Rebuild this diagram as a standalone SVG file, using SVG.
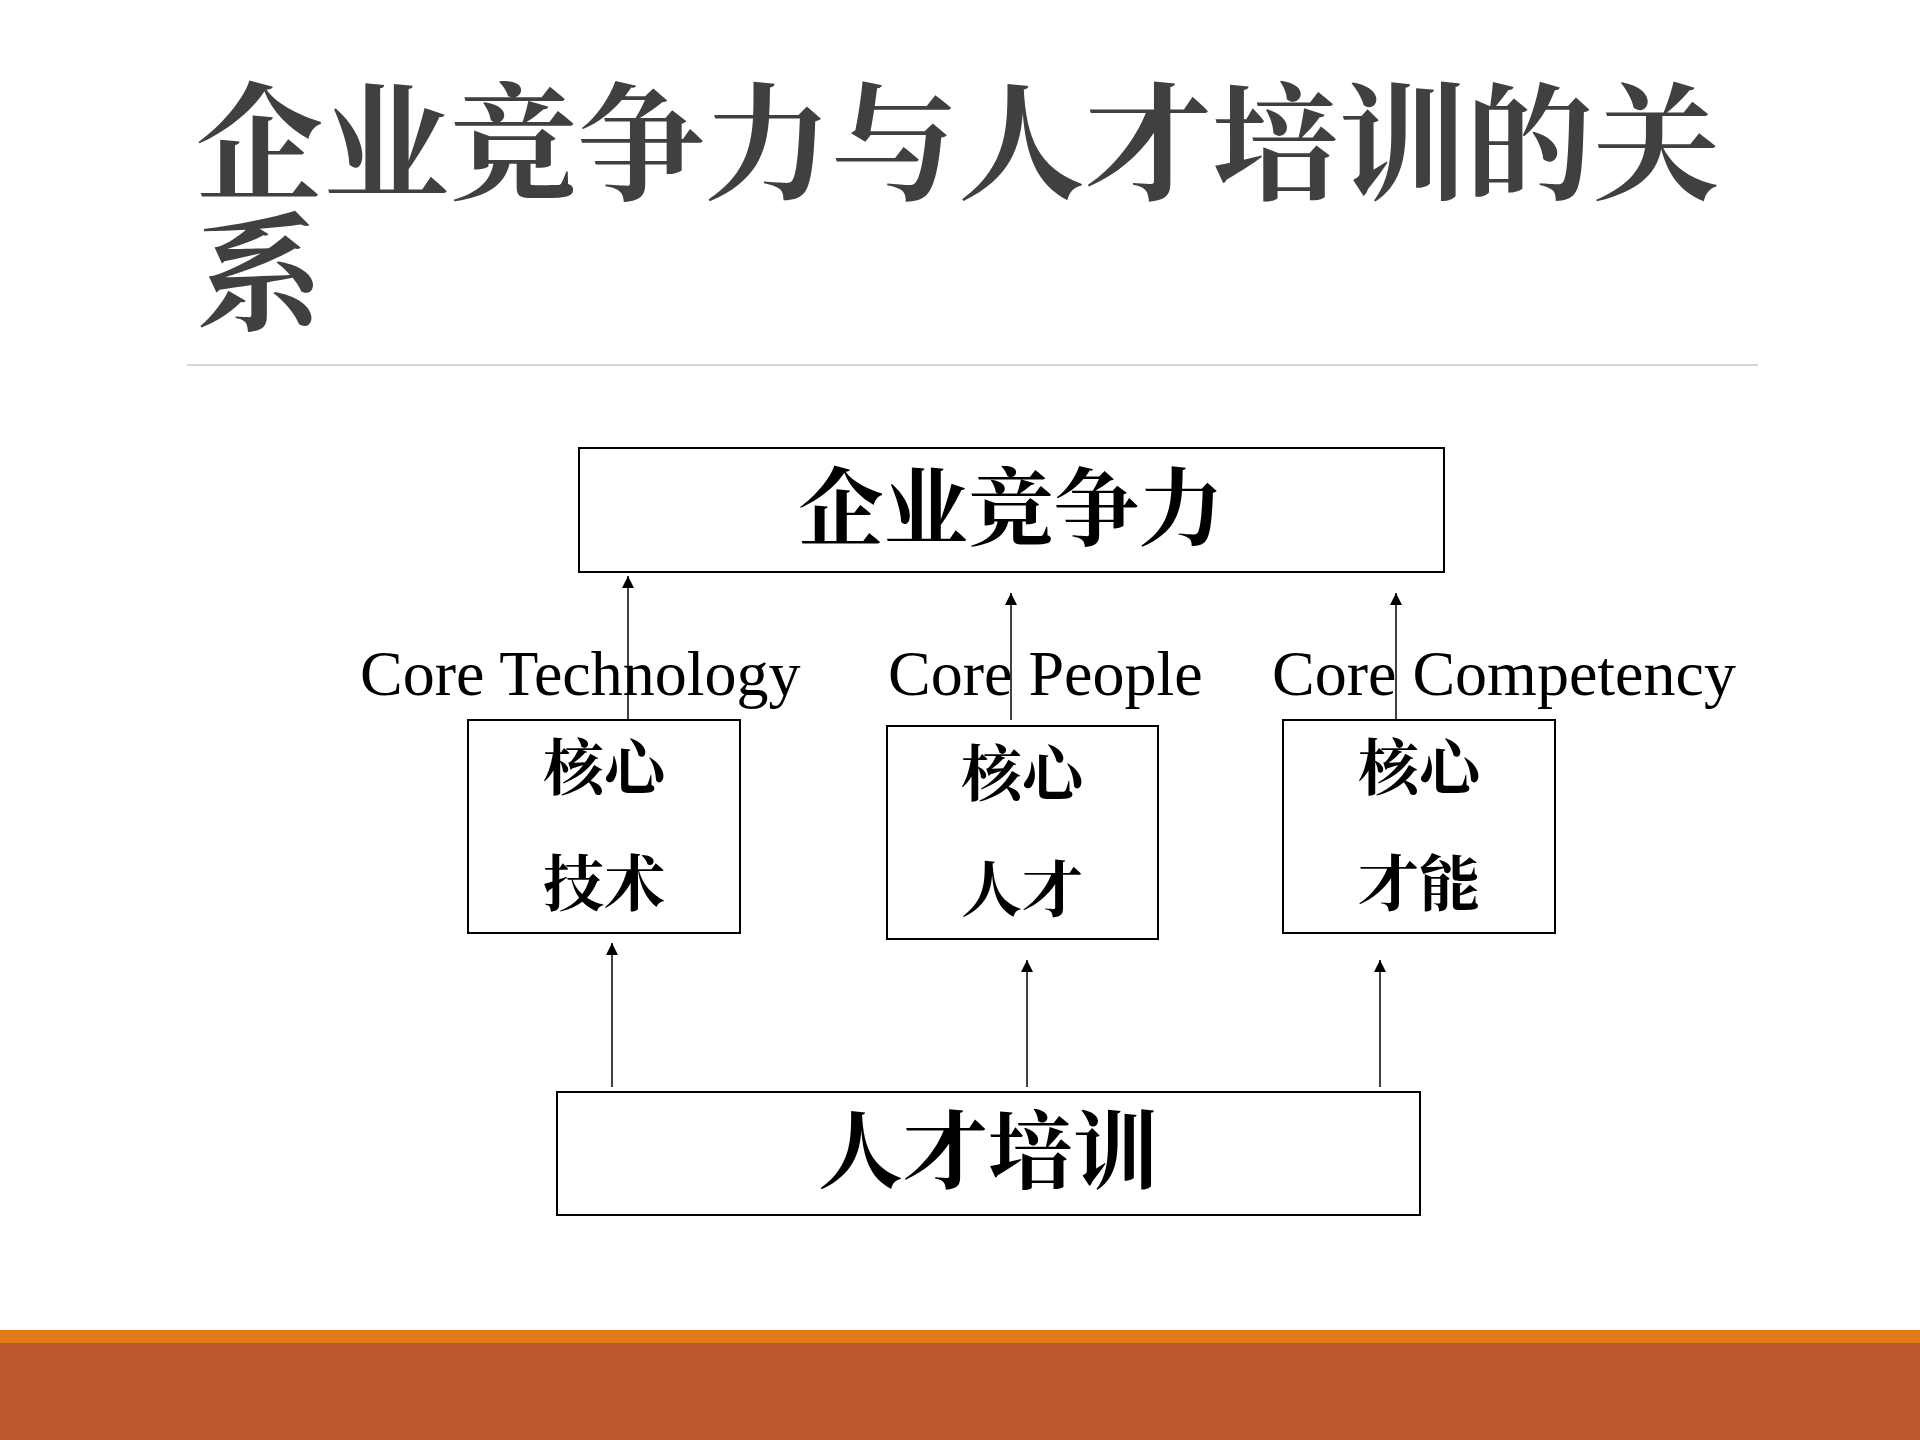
<svg xmlns="http://www.w3.org/2000/svg" width="1920" height="1440" viewBox="0 0 1920 1440">
<defs>
<marker id="ah" viewBox="0 0 10 10" refX="10" refY="5" markerWidth="12" markerHeight="12" markerUnits="userSpaceOnUse" orient="auto"><path d="M0,0L10,5L0,10z" fill="#000"/></marker>
<style>
.cjk{font-family:"Noto Serif CJK SC","Noto Sans CJK SC",serif;font-weight:bold;fill:#000}
.en{font-family:"Liberation Serif",serif;font-size:64px;fill:#000}
.box{fill:#fff;stroke:#000;stroke-width:2}
.ln{stroke:#000;stroke-width:1.5;fill:none;marker-end:url(#ah)}
</style>
</defs>
<rect width="1920" height="1440" fill="#fff"/>
<g id="title" font-family="'Noto Serif CJK SC','Noto Sans CJK SC',serif" font-weight="bold" font-size="127" fill="#404040">
<text x="196" y="190">企业竞争力与人才培训的关</text>
<text x="196" y="320">系</text>
</g>
<line x1="187" y1="365" x2="1758" y2="365" stroke="#c8c8c8" stroke-width="1.5"/>
<g id="connectors">
<line class="ln" x1="628" y1="719" x2="628" y2="576"/>
<line class="ln" x1="1011" y1="720" x2="1011" y2="593"/>
<line class="ln" x1="1396" y1="720" x2="1396" y2="593"/>
<line class="ln" x1="612" y1="1087" x2="612" y2="943"/>
<line class="ln" x1="1027" y1="1087" x2="1027" y2="960"/>
<line class="ln" x1="1380" y1="1087" x2="1380" y2="960"/>
</g>
<g id="top"><rect class="box" x="579" y="448" width="865" height="124"/><text class="cjk" x="1011" y="539" font-size="85" text-anchor="middle">企业竞争力</text></g>
<g id="labels">
<text class="en" x="360" y="695">Core Technology</text>
<text class="en" x="888" y="695">Core People</text>
<text class="en" x="1272" y="695">Core Competency</text>
</g>
<g id="n1"><rect class="box" x="468" y="720" width="272" height="213"/><text class="cjk" font-size="61" text-anchor="middle"><tspan x="604" y="790">核心</tspan><tspan x="604" y="906">技术</tspan></text></g>
<g id="n2"><rect class="box" x="887" y="726" width="271" height="213"/><text class="cjk" font-size="61" text-anchor="middle"><tspan x="1022" y="796">核心</tspan><tspan x="1022" y="912">人才</tspan></text></g>
<g id="n3"><rect class="box" x="1283" y="720" width="272" height="213"/><text class="cjk" font-size="61" text-anchor="middle"><tspan x="1419" y="790">核心</tspan><tspan x="1419" y="906">才能</tspan></text></g>
<g id="bottom"><rect class="box" x="557" y="1092" width="863" height="123"/><text class="cjk" x="988" y="1182" font-size="85" text-anchor="middle">人才培训</text></g>
<rect x="0" y="1330" width="1920" height="13" fill="#E07B1A"/>
<rect x="0" y="1343" width="1920" height="97" fill="#BD582C"/>
</svg>
